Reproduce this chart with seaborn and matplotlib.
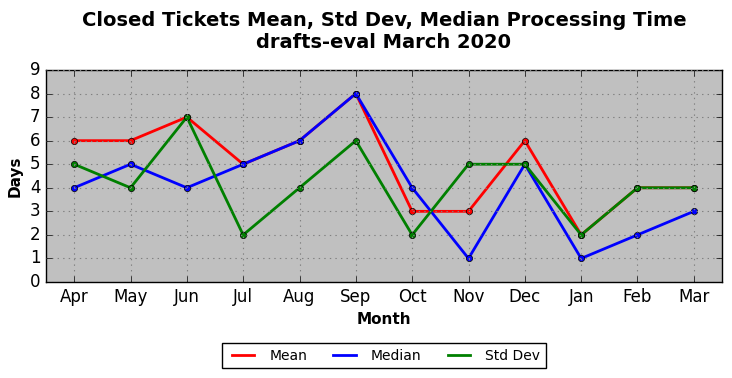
import pandas as pd
import matplotlib
matplotlib.use("Agg")
import matplotlib.pyplot as plt
import seaborn as sns
from matplotlib.lines import Line2D

# data
months = ['Apr', 'May', 'Jun', 'Jul', 'Aug', 'Sep', 'Oct', 'Nov', 'Dec', 'Jan', 'Feb', 'Mar']
mean_days = [6, 6, 7, 5, 6, 8, 3, 3, 6, 2, 4, 4]
median_days = [4, 5, 4, 5, 6, 8, 4, 1, 5, 1, 2, 3]
std_days = [5, 4, 7, 2, 4, 6, 2, 5, 5, 2, 4, 4]
series_names = ['Mean', 'Median', 'Std Dev']
series_colors = ['red', 'blue', 'green']

dat = pd.concat([
    pd.DataFrame({'Month': months, 'Days': vals, 'Series': name})
    for name, vals in zip(series_names, [mean_days, median_days, std_days])
])

plt.style.use('classic')
fig, ax = plt.subplots(figsize=(7.32, 3.78), dpi=100)
fig.patch.set_facecolor('white')
ax.set_facecolor('silver')

sns.lineplot(data=dat, x='Month', y='Days', hue='Series', hue_order=series_names,
             palette=series_colors, marker='o', markersize=4.5,
             markeredgecolor='black', markeredgewidth=0.5, linewidth=2,
             sort=False, legend=False, ax=ax)

ax.set_xlim(-0.5, 11.5)
ax.set_ylim(0, 9)
ax.set_yticks(range(0, 10))
ax.grid(True, color='gray', linestyle=':', linewidth=0.8)
ax.tick_params(labelsize=12)

ax.set_xlabel('Month', fontsize=11, fontweight='bold')
ax.set_ylabel('Days', fontsize=11, fontweight='bold')
ax.set_title('Closed Tickets Mean, Std Dev, Median Processing Time\ndrafts-eval March 2020',
             fontsize=14, fontweight='bold', y=1.07)

handles = [Line2D([0], [0], color=c, linewidth=2) for c in series_colors]
leg = ax.legend(handles, series_names, loc='upper center', bbox_to_anchor=(0.5, -0.255),
                ncol=3, fontsize=10, frameon=True, fancybox=False,
                handlelength=2.2, columnspacing=1.6, borderpad=0.4)
leg.get_frame().set_edgecolor('black')

plt.subplots_adjust(left=46/732, right=722/732, top=1-70/378, bottom=1-282/378)
plt.savefig('out.png', dpi=100, facecolor='white')
